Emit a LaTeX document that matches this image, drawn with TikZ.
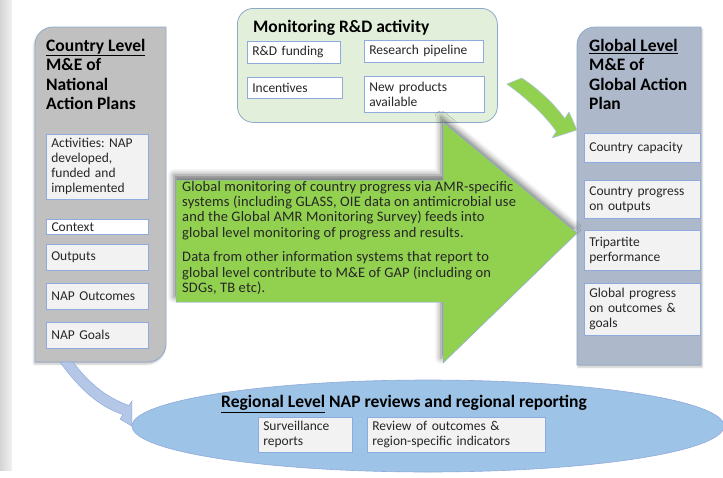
\documentclass[tikz,border=0pt]{standalone}
\usepackage{fontspec}
\setmainfont{Carlito}
\newfontfamily\spreadfont[LetterSpace=1.0]{Carlito}
\usepackage{tikz}
\usetikzlibrary{calc}
\usetikzlibrary{shapes.geometric}
\usetikzlibrary{shadows.blur}

\definecolor{panelgray}{HTML}{C0C0C0}
\definecolor{panelblue}{HTML}{ADB9CA}
\definecolor{panelline}{HTML}{8EA9C8}
\definecolor{boxfill}{HTML}{F2F2F2}
\definecolor{boxline}{HTML}{8FAADC}
\definecolor{rdfill}{HTML}{E2EFDA}
\definecolor{arrowgreen}{HTML}{92D050}
\definecolor{regionblue}{HTML}{9DC3E6}
\definecolor{arrowblue}{HTML}{B4C7E7}
\definecolor{txt}{HTML}{262626}

\tikzset{
	panel/.style={draw=panelline, line width=0.8pt},
	inbox/.style={draw=boxline, fill=boxfill, line width=0.6pt, anchor=north west, inner xsep=5pt, inner ysep=1pt, align=left, text=txt, font=\fontsize{13.5}{15}\selectfont},
	paneltitle/.style={anchor=north west, inner sep=0pt, align=left, font=\bfseries\fontsize{17.5}{19.5}\selectfont},
}

\begin{document}
\frenchspacing
\begin{tikzpicture}[x=1pt,y=-1pt]
	\useasboundingbox (0,0) rectangle (723,477);
	\shade[left color=black!17, right color=black!5] (0,0) rectangle (12,470);

	\coordinate (S1) at (176,180);
	\coordinate (S2) at (443,180);
	\coordinate (H1) at (443,122);
	\coordinate (T) at (577,233);
	\coordinate (H2) at (443,363);
	\coordinate (S3) at (443,302);
	\coordinate (S4) at (176,302);

	% regional level
	\node[ellipse, draw=boxline, fill=regionblue, line width=0.6pt, inner sep=0pt, minimum width=592pt, minimum height=92pt] (reg) at (428,426) {};
	\node[font=\bfseries\fontsize{17.5}{20}\selectfont] (regtitle) at (404,404) {\underline{Regional Level} NAP reviews and regional reporting};
	\node[inbox, text width=84pt, minimum height=35pt] (surv) at (258,417) {Surveillance\\reports};
	\node[inbox, text width=168pt, minimum height=35pt] (rev) at (367,417) {Review of outcomes \&\\region-specific indicators};

	% country level
	\draw[panel, fill=panelgray, blur shadow={shadow xshift=-1pt, shadow yshift=-2pt, shadow opacity=25}] (35,200) [rounded corners=18pt] -- (35,27) -- (100,27) [sharp corners] -- (166,27) -- (166,200) [rounded corners=18pt] -- (166,362) -- (100,362) [sharp corners] -- (35,362) -- cycle;
	\node[paneltitle] (ctitle) at (46,39) {\underline{Country Level}\\M\&E of\\National\\Action Plans};
	\node[inbox, text width=92pt, minimum height=65pt] (act) at (46,134) {Activities: NAP\\developed,\\funded and\\implemented};
	\node[inbox, fill=white, line width=1pt, text width=92pt, minimum height=15pt, inner ysep=0pt] (ctx) at (46,219) {Context};
	\node[inbox, text width=92pt, minimum height=26pt] (out) at (46,244) {Outputs};
	\node[inbox, text width=92pt, minimum height=26pt] (nout) at (46,283) {NAP Outcomes};
	\node[inbox, text width=92pt, minimum height=26pt] (ngoal) at (46,322) {NAP Goals};

	% global level
	\draw[panel, fill=panelblue, blur shadow={shadow xshift=1pt, shadow yshift=-2pt, shadow opacity=25}] (577,200) [rounded corners=18pt] -- (577,27) -- (640,27) [sharp corners] -- (701,27) -- (701,365) -- (577,365) -- cycle;
	\node[paneltitle] (gtitle) at (589,39) {\underline{Global Level}\\M\&E of\\Global Action\\Plan};
	\node[inbox, text width=106pt, minimum height=29pt] (cap) at (584,133) {Country capacity};
	\node[inbox, text width=106pt, minimum height=38pt] (prog) at (584,180) {Country progress\\on outputs};
	\node[inbox, text width=106pt, minimum height=40pt] (tri) at (584,230) {Tripartite\\performance};
	\node[inbox, text width=106pt, minimum height=52pt] (gprog) at (584,283) {Global progress\\on outcomes \&\\goals};

	% R&D
	\node[draw=panelline, fill=rdfill, line width=0.8pt, rounded corners=16pt, anchor=north west, minimum width=260pt, minimum height=114pt] (rd) at (237,8) {};
	\node[anchor=base west, inner sep=0pt, font=\bfseries\fontsize{17.5}{20}\selectfont] (rdtitle) at (253,32) {Monitoring R\&D activity};
	\node[inbox, fill=white, text width=83pt, minimum height=22pt] (fund) at (247,41) {R\&D funding};
	\node[inbox, fill=white, text width=109pt, minimum height=22pt] (pipe) at (364,40) {Research pipeline};
	\node[inbox, fill=white, text width=85pt, minimum height=21pt] (inc) at (247,77) {Incentives};
	\node[inbox, fill=white, text width=110pt, minimum height=36pt] (newp) at (364,76) {New products\\available};

	% arrows
	\draw[draw=boxline, fill=arrowgreen, line width=0.5pt, blur shadow={shadow xshift=-2pt, shadow yshift=5pt, shadow blur radius=6pt, shadow opacity=55}] (S1)--(S2)--(H1)--(T)--(H2)--(S3)--(S4)--cycle;
	\node[anchor=north west, inner sep=0pt, align=left, text=txt, font=\spreadfont\fontsize{14.5}{15.3}\selectfont] (glob) at (182,181) {Global monitoring of country progress via AMR-specific\\systems (including GLASS, OIE data on antimicrobial use\\and the Global AMR Monitoring Survey) feeds into\\global level monitoring of progress and results.\\[9.5pt]Data from other information systems that report to\\global level contribute to M\&E of GAP (including on\\SDGs, TB etc).};

	\draw[draw=boxline!70, fill=arrowgreen, line width=0.5pt] ($(rd.north east)+(24,70)$) .. controls (540,90) and (555,105) .. (564.75,118.5) -- (569,112) -- ($(cap.north west)+(-7,-3)$) -- (552,138) -- (556.25,131.5) .. controls (545,115) and (525,97) .. ($(rd.north east)+(9,76)$) -- cycle;
	\draw[draw=boxline, fill=arrowblue, line width=0.5pt] (73,362) .. controls (88,382) and (105,397) .. (129,405.5) -- (132,401) -- (reg.west) -- (120,419) -- (123,414.5) .. controls (100,407) and (80,390) .. (60,362) -- cycle;
\end{tikzpicture}
\end{document}
